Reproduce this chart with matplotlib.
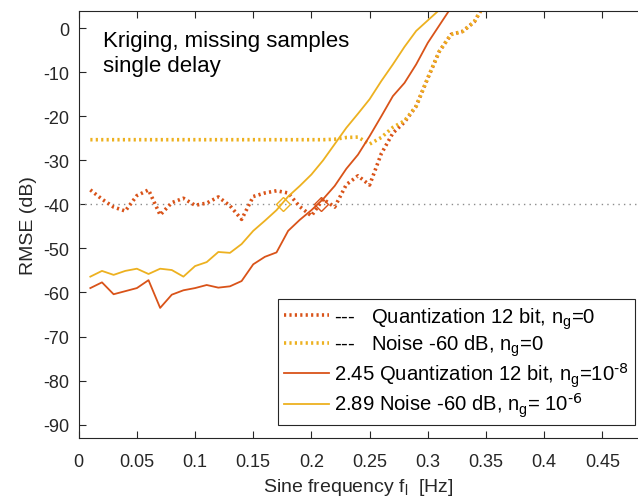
import numpy as np
import matplotlib
matplotlib.use("Agg")
import matplotlib.pyplot as plt

plt.rcParams['font.family'] = ['Liberation Sans', 'DejaVu Sans']
plt.rcParams['mathtext.default'] = 'regular'
plt.rcParams['axes.unicode_minus'] = False

# sine frequency grid (Hz)
freq = [0.01, 0.02, 0.03, 0.04, 0.05, 0.06, 0.07, 0.08, 0.09, 0.10,
        0.11, 0.12, 0.13, 0.14, 0.15, 0.16, 0.17, 0.18, 0.19, 0.20,
        0.21, 0.22, 0.23, 0.24, 0.25, 0.26, 0.27, 0.28, 0.29, 0.30,
        0.31, 0.32, 0.33, 0.34, 0.35]

# RMSE (dB), n_g = 0
quant_ng0 = [-36.7, -38.8, -40.6, -41.5, -38.0, -36.7, -42.4, -39.6, -38.6, -40.2,
             -39.7, -38.3, -40.3, -43.4, -38.2, -37.4, -36.9, -37.4, -40.5, -42.6,
             -38.8, -40.6, -35.5, -33.5, -35.6, -28.5, -23.8, -21.3, -17.7, -11.3,
             -5.2, -1.4, -0.7, 1.5, 6.0]
noise_ng0 = [-25.3, -25.3, -25.3, -25.3, -25.3, -25.3, -25.3, -25.3, -25.3, -25.3,
             -25.3, -25.3, -25.3, -25.3, -25.3, -25.3, -25.3, -25.3, -25.3, -25.3,
             -25.3, -25.2, -24.8, -24.7, -26.3, -24.8, -22.5, -21.0, -17.7, -11.3,
             -5.2, -1.4, -0.7, 1.5, 6.0]

# RMSE (dB), regularised
quant_reg = [-59.0, -57.7, -60.4, -59.7, -59.0, -57.2, -63.5, -60.5, -59.5, -59.0,
             -58.3, -58.9, -58.6, -57.4, -53.6, -51.9, -50.9, -46.0, -43.5, -41.3,
             -38.8, -35.8, -31.9, -28.7, -24.5, -20.0, -15.4, -12.4, -8.2, -3.3,
             0.7, 4.7]
noise_reg = [-56.4, -55.1, -56.0, -55.1, -54.6, -55.8, -54.6, -54.9, -56.4, -54.0,
             -53.1, -50.8, -51.0, -49.0, -46.0, -43.7, -41.3, -38.2, -35.8, -33.2,
             -30.0, -26.3, -22.6, -19.4, -16.1, -12.0, -8.2, -4.2, -0.6, 1.8,
             4.2]

threshold = -40
cross_f = [0.176, 0.208]
cross_db = [-40, -40]

labels = ['---   Quantization 12 bit, n$_g$=0',
          '---   Noise -60 dB, n$_g$=0',
          '2.45 Quantization 12 bit, n$_g$=10$^{\\text{-8}}$',
          '2.89 Noise -60 dB, n$_g$= 10$^{\\text{-6}}$']

red = '#D95319'
yel = '#EDB120'

fig = plt.figure(figsize=(6.38, 5.02), dpi=100)
ax = fig.add_axes([78.7/638, 1 - 439/502, 1 - 78.7/638, (439 - 11.7)/502])

ax.axhline(threshold, color='#8c8c8c', linestyle=(0, (1, 3)), linewidth=1.0)
ax.plot(freq, quant_ng0, linestyle=(0, (0.6, 0.9)), color=red, linewidth=2.6, label=labels[0])
ax.plot(freq, noise_ng0, linestyle=(0, (0.6, 0.9)), color=yel, linewidth=2.6, label=labels[1])
ax.plot(freq[:len(quant_reg)], quant_reg, color=red, linewidth=1.3, label=labels[2])
ax.plot(freq[:len(noise_reg)], noise_reg, color=yel, linewidth=1.3, label=labels[3])
ax.plot(cross_f[0], cross_db[0], marker='D', markersize=7, mfc='none', mec=yel, mew=1.0)
ax.plot(cross_f[1], cross_db[1], marker='D', markersize=7, mfc='none', mec=red, mew=1.0)

ax.set_xlim(0, (638 - 78.7) / 1163.6)
ax.set_ylim(-93.05, 4.0)
ax.set_xticks(np.arange(0, 0.46, 0.05))
ax.set_xticklabels(['0', '0.05', '0.1', '0.15', '0.2', '0.25', '0.3', '0.35', '0.4', '0.45'])
ax.set_yticks(np.arange(-90, 1, 10))
ax.tick_params(direction='in', top=True, right=False, length=5, labelsize=13,
               colors='#262626', width=0.8)
ax.tick_params(axis='x', pad=11)
ax.tick_params(axis='y', pad=7)
for s in ['left', 'top', 'bottom']:
    ax.spines[s].set_color('#262626')
ax.spines['right'].set_visible(False)

ax.set_xlabel('Sine frequency f$_l$  [Hz]', fontsize=14, color='#262626', labelpad=4)
ax.set_ylabel('RMSE (dB)', fontsize=14, color='#262626')

ax.text(0.021, -0.3, 'Kriging, missing samples\nsingle delay', fontsize=16,
        va='top', ha='left', linespacing=1.25)

leg = ax.legend(loc='lower right', bbox_to_anchor=(0.9946, 0.03), fontsize=14.6,
                handlelength=2.2, handletextpad=0.25, labelspacing=0.1,
                borderpad=0.3, borderaxespad=0, fancybox=False, framealpha=1,
                edgecolor='#262626')
leg.get_frame().set_linewidth(0.8)

fig.savefig('out.png', dpi=100)
